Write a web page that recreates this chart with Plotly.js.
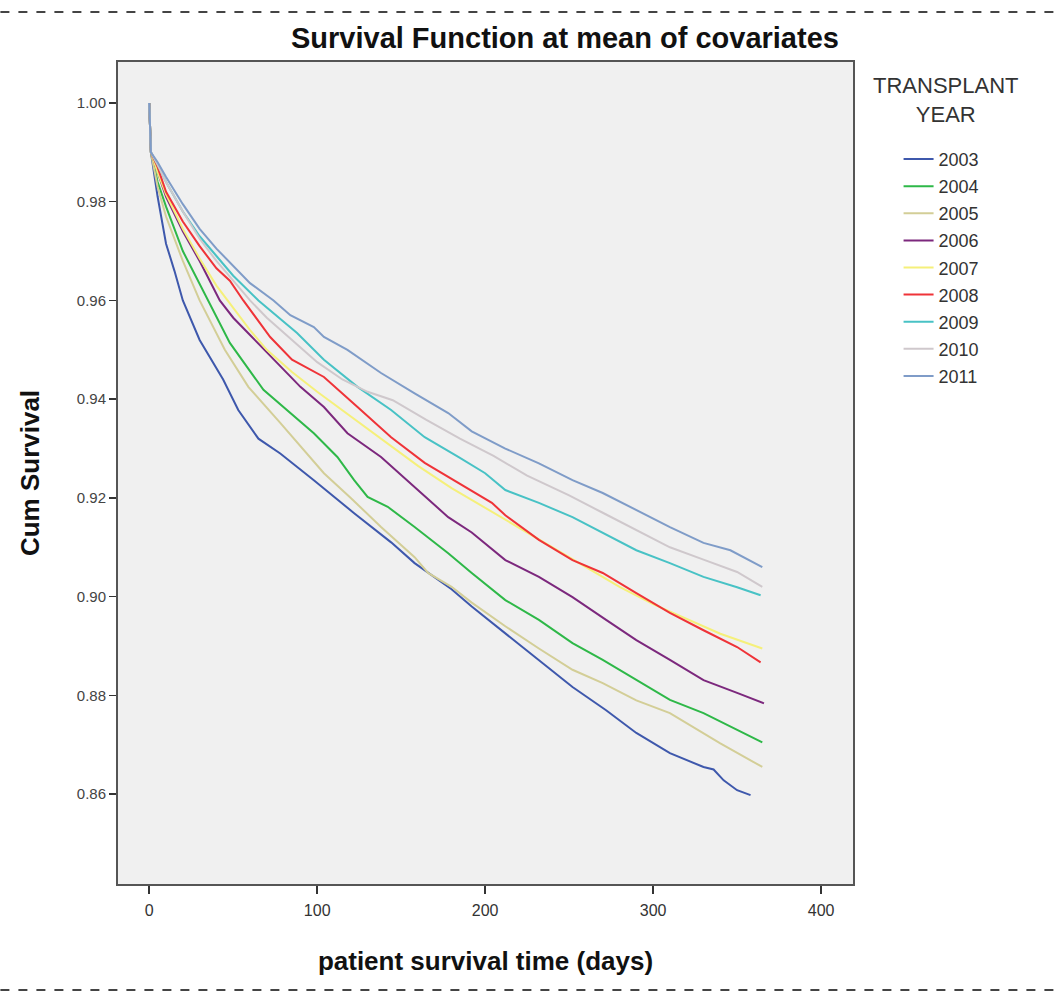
<!DOCTYPE html>
<html>
<head>
<meta charset="utf-8">
<script src="https://cdn.plot.ly/plotly-3.0.1.min.js"></script>
<style>html,body{margin:0;padding:0;background:#fff;}#chart{width:1055px;height:995px;}</style>
</head>
<body>
<div id="chart"></div>
<script>
// Series names and colours
const years = ['2003','2004','2005','2006','2007','2008','2009','2010','2011'];
const colors = ['#3E58AC','#2EB848','#D3CE97','#7C287D','#F5F07A','#EF3338','#48C2C5','#CFC8CC','#7F9CC8'];

// Survival curves (day, cumulative survival)
const days2003 = [0,1,5,10,15,20,30,44,53,65,78,98,122,144,158,170,180,192,212,232,252,272,290,310,330,336,342,350,358];
const surv2003 = [1.0,0.990,0.981,0.9715,0.966,0.960,0.952,0.944,0.9378,0.932,0.929,0.9236,0.9169,0.911,0.9068,0.904,0.9015,0.898,0.8926,0.8872,0.8817,0.877,0.8724,0.8683,0.8655,0.865,0.8628,0.8608,0.8598];

const days2004 = [0,1,5,10,20,35,48,68,84,98,112,122,130,142,158,178,192,212,232,252,270,290,310,330,350,365];
const surv2004 = [1.0,0.990,0.984,0.979,0.970,0.960,0.9514,0.9419,0.9372,0.9331,0.9283,0.9236,0.9202,0.9182,0.9141,0.9088,0.9048,0.8993,0.8953,0.8906,0.8872,0.8831,0.8791,0.8764,0.873,0.8705];

const days2005 = [0,1,5,10,20,30,45,59,78,104,120,138,158,166,180,192,212,232,252,270,290,310,340,365];
const surv2005 = [1.0,0.990,0.983,0.977,0.968,0.960,0.950,0.9425,0.9352,0.925,0.920,0.9141,0.908,0.9048,0.902,0.8988,0.894,0.8895,0.8852,0.8825,0.879,0.8764,0.8703,0.8655];

const days2006 = [0,1,5,10,20,30,42,50,60,70,78,90,104,118,138,158,178,192,212,232,252,272,290,310,330,350,366];
const surv2006 = [1.0,0.990,0.986,0.981,0.974,0.968,0.960,0.9565,0.953,0.9495,0.9465,0.9425,0.9384,0.9331,0.9283,0.9222,0.9161,0.913,0.9074,0.904,0.8999,0.8953,0.8912,0.8872,0.8831,0.8805,0.8784];

const days2007 = [0,1,5,10,20,30,40,50,60,70,85,100,120,140,160,180,200,220,240,260,280,300,320,340,365];
const surv2007 = [1.0,0.990,0.986,0.9815,0.9745,0.9685,0.963,0.9585,0.954,0.950,0.9455,0.9415,0.9365,0.9315,0.9265,0.922,0.918,0.914,0.910,0.906,0.902,0.8985,0.8955,0.8925,0.8895];

const days2008 = [0,1,5,10,20,30,40,48,56,72,85,104,124,144,164,184,204,212,232,252,270,290,310,330,350,364];
const surv2008 = [1.0,0.990,0.987,0.982,0.976,0.971,0.9665,0.964,0.960,0.9526,0.948,0.9445,0.9384,0.9323,0.9271,0.923,0.919,0.9165,0.9115,0.9074,0.9048,0.9007,0.8967,0.8932,0.8898,0.8867];

const days2009 = [0,1,5,10,20,30,40,50,65,88,104,124,144,164,184,200,212,232,252,270,290,310,330,350,364];
const surv2009 = [1.0,0.990,0.9875,0.984,0.978,0.973,0.969,0.965,0.960,0.9534,0.948,0.9425,0.9378,0.9323,0.9283,0.925,0.9216,0.919,0.9161,0.9129,0.9094,0.9068,0.904,0.9019,0.9003];

const days2010 = [0,1,5,10,20,30,40,50,60,70,85,100,115,130,145,165,185,205,225,250,270,290,310,330,350,365];
const surv2010 = [1.0,0.990,0.9875,0.984,0.978,0.9725,0.968,0.964,0.960,0.9565,0.952,0.9475,0.944,0.9415,0.9398,0.9358,0.932,0.9285,0.9245,0.9205,0.917,0.9135,0.910,0.9075,0.905,0.902];

const days2011 = [0,1,5,10,20,30,40,50,60,74,84,98,104,118,138,158,178,192,212,232,252,270,290,310,330,346,365];
const surv2011 = [1.0,0.990,0.988,0.985,0.9795,0.9745,0.9705,0.967,0.9635,0.960,0.957,0.9546,0.9526,0.950,0.9453,0.9412,0.9372,0.9335,0.930,0.927,0.9236,0.921,0.9175,0.9141,0.9109,0.9094,0.906];

const xTicks = [0,100,200,300,400];
const yTicks = [0.86,0.88,0.90,0.92,0.94,0.96,0.98,1.00];
const legendTitle = 'TRANSPLANT<br>YEAR';

const allDays = [days2003,days2004,days2005,days2006,days2007,days2008,days2009,days2010,days2011];
const allSurv = [surv2003,surv2004,surv2005,surv2006,surv2007,surv2008,surv2009,surv2010,surv2011];

const traces = years.map((y,i)=>({
  x: allDays[i], y: allSurv[i], type:'scatter', mode:'lines', name:y,
  legendgroup: y,
  line:{color:colors[i], width:2, shape:'linear'}
}));

const FONT = 'Liberation Sans, Arial, sans-serif';
const layout = {
  width:1055, height:995,
  margin:{l:118, r:202, t:62, b:111},
  paper_bgcolor:'#ffffff', plot_bgcolor:'#F0F0F0',
  font:{family:FONT, color:'#222'},
  title:{text:'<b>Survival Function at mean of covariates</b>', x:0.5355, xref:'container', xanchor:'center', y:0.962, yref:'container', yanchor:'middle', font:{size:29, family:FONT, color:'#111'}},
  xaxis:{range:[-18.6,419], tickvals:xTicks, ticktext:xTicks.map(String), ticks:'outside', ticklen:8, tickwidth:1.5, tickcolor:'#333',
    showgrid:false, zeroline:false, showline:true, mirror:true, linecolor:'#555', linewidth:2,
    tickfont:{size:16, color:'#333'}, ticklabelstandoff:3,
    title:{text:'<b>patient survival time (days)</b>', font:{size:26, color:'#111'}, standoff:34}},
  yaxis:{range:[0.8418,1.0083], tickvals:yTicks, ticktext:yTicks.map(v=>v.toFixed(2)), ticks:'outside', ticklen:7, tickwidth:1.5, tickcolor:'#333',
    showgrid:false, zeroline:false, showline:true, mirror:true, linecolor:'#555', linewidth:2,
    tickfont:{size:15, color:'#444'},
    title:{text:'<b>Cum Survival</b>', font:{size:26, color:'#111'}, standoff:30}},
  legend:{x:1.062, y:0.904, xanchor:'left', yanchor:'top', bgcolor:'rgba(0,0,0,0)',
    traceorder:'grouped', tracegroupgap:0.7,
    font:{size:18, color:'#333', family:FONT},
    itemwidth:30},
  annotations:[{
     text:legendTitle, xref:'paper', yref:'paper', x:(945-118)/735, y:(884-100)/822, xanchor:'center', yanchor:'middle', align:'center', showarrow:false,
     font:{size:22, color:'#333', family:FONT}}],
  shapes:[
    {type:'line', xref:'paper', yref:'paper', x0:-0.16, x1:1.275, y0:1.0608, y1:1.0608, line:{color:'#444', width:2, dash:'dash'}},
    {type:'line', xref:'paper', yref:'paper', x0:-0.16, x1:1.275, y0:-0.129, y1:-0.129, line:{color:'#444', width:2, dash:'dash'}}
  ],
  showlegend:true
};

Plotly.newPlot('chart', traces, layout, {displayModeBar:false, staticPlot:true});
</script>
</body>
</html>
